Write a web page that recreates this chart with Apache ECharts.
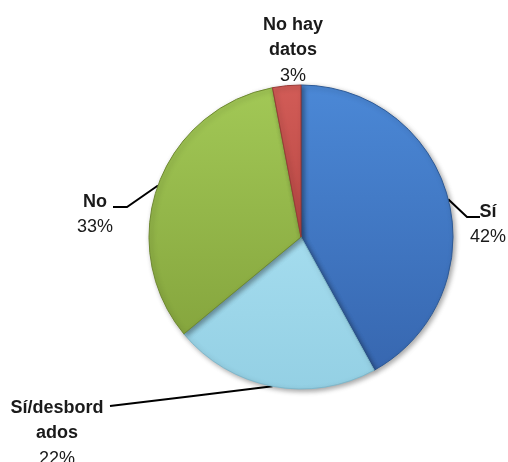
<!DOCTYPE html>
<html>
<head>
<meta charset="utf-8">
<script src="https://cdn.jsdelivr.net/npm/echarts@6/dist/echarts.min.js"></script>
<style>
  html, body { margin: 0; padding: 0; background: #ffffff; }
  #chart { width: 508px; height: 462px; }
</style>
</head>
<body>
<div id="chart"></div>
<script>
// ---- data ----
const categories = ['Sí', 'Sí/desbordados', 'No', 'No hay datos'];
const values = [42, 22, 33, 3];
const labelNames = ['Sí', 'Sí/desbord\nados', 'No', 'No hay\ndatos'];

// ---- styles ----
const colorTop = ['#4b88d6', '#a4dcee', '#a2c856', '#d25c57'];
const colorBottom = ['#3767b0', '#94d0e4', '#86a63e', '#b84844'];
const borderCols = ['#2d5a97', '#7fb8cc', '#6f8a32', '#9a3a37'];

// label placement (center x, center y, line end, elbow offset)
const labelPlace = [
  { x: 488, y: 225, end: [480, 217], elbow: -13 },
  { x: 57, y: 434, end: [110, 406], elbow: null },
  { x: 95, y: 215, end: [113, 207], elbow: 14 },
  { x: 293, y: 51, end: null, elbow: null }
];

const chart = echarts.init(document.getElementById('chart'), null, { renderer: 'canvas' });

const data = categories.map((c, i) => ({
  name: c,
  value: values[i],
  itemStyle: {
    color: {
      type: 'linear', x: 0, y: 0, x2: 0, y2: 1,
      colorStops: [{ offset: 0, color: colorTop[i] }, { offset: 1, color: colorBottom[i] }]
    },
    borderColor: borderCols[i]
  },
  labelLine: { show: i !== 3 }
}));

chart.setOption({
  backgroundColor: '#ffffff',
  animation: false,
  series: [{
    type: 'pie',
    center: [301, 237],
    radius: 152,
    startAngle: 90,
    clockwise: true,
    avoidLabelOverlap: false,
    data: data,
    itemStyle: {
      borderWidth: 1,
      shadowBlur: 5,
      shadowOffsetX: 2,
      shadowOffsetY: 2,
      shadowColor: 'rgba(0,0,0,0.35)'
    },
    label: {
      show: true,
      position: 'outside',
      formatter: p => '{n|' + labelNames[p.dataIndex].split('\n').join('}\n{n|') + '}\n{v|' + Math.round(p.percent) + '%}',
      rich: {
        n: { fontFamily: 'Liberation Sans, Arial, sans-serif', fontSize: 18, fontWeight: 'bold', color: '#1a1a1a', lineHeight: 25, align: 'center' },
        v: { fontFamily: 'Liberation Sans, Arial, sans-serif', fontSize: 18, color: '#1a1a1a', lineHeight: 26, align: 'center' }
      }
    },
    labelLine: {
      show: true,
      lineStyle: { color: '#000000', width: 2 }
    },
    labelLayout: function (params) {
      const lp = labelPlace[params.dataIndex];
      const out = { x: lp.x, y: lp.y, align: 'center', verticalAlign: 'middle' };
      if (lp.end && params.labelLinePoints) {
        const s = params.labelLinePoints[0];
        const e = lp.end;
        const m = lp.elbow === null ? [(s[0] + e[0]) / 2, (s[1] + e[1]) / 2] : [e[0] + lp.elbow, e[1]];
        out.labelLinePoints = [s, m, e];
      }
      return out;
    }
  }]
});
</script>
</body>
</html>
